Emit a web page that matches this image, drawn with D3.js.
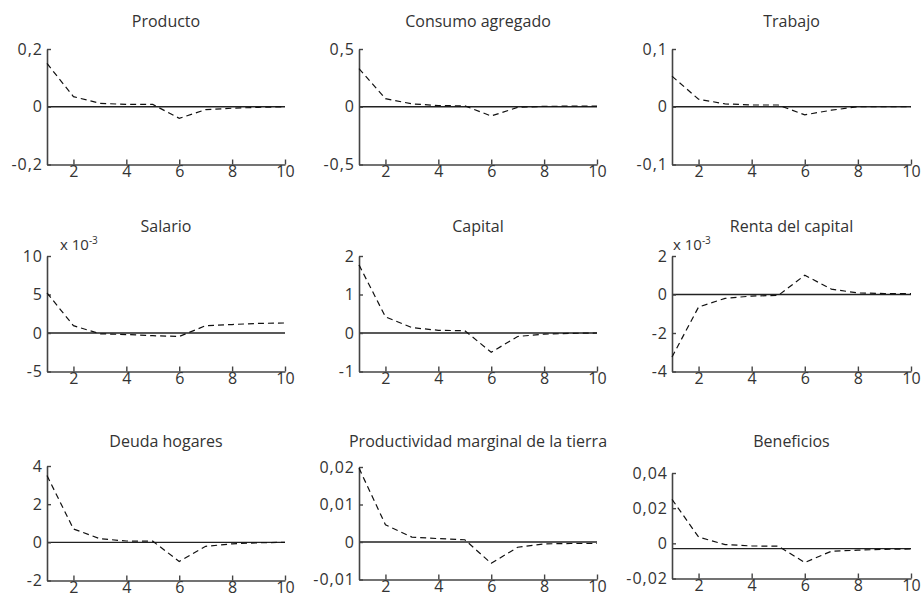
<!DOCTYPE html>
<html>
<head>
<meta charset="utf-8">
<script src="https://cdn.jsdelivr.net/npm/d3@7"></script>
<style>
  body { margin: 0; background: #fff; }
  text { font-family: "Open Sans", Lato, sans-serif; fill: #333; }
</style>
</head>
<body>
<div id="chart"></div>
<script>
// impulse responses, periods 1..10
let periods = [1, 2, 3, 4, 5, 6, 7, 8, 9, 10]
let xTicks = [2, 4, 6, 8, 10]

let titles = ["Producto", "Consumo agregado", "Trabajo",
    "Salario", "Capital", "Renta del capital",
    "Deuda hogares", "Productividad marginal de la tierra", "Beneficios"]

let producto = [0.15, 0.035, 0.012, 0.008, 0.008, -0.04, -0.01, -0.005, -0.002, 0]
let consumo = [0.33, 0.07, 0.025, 0.01, 0.008, -0.08, -0.005, 0.004, 0.005, 0.005]
let trabajo = [0.053, 0.013, 0.005, 0.003, 0.003, -0.014, -0.006, 0, 0, 0]
let salario = [5.2, 0.95, -0.1, -0.2, -0.35, -0.45, 0.95, 1.1, 1.25, 1.3]      // x 10^-3
let capital = [1.77, 0.42, 0.14, 0.07, 0.06, -0.5, -0.09, -0.03, -0.01, 0]
let renta = [-3.25, -0.65, -0.2, -0.08, -0.05, 1.0, 0.28, 0.08, 0.05, 0.05]    // x 10^-3
let deuda = [3.5, 0.7, 0.19, 0.07, 0.06, -1.0, -0.21, -0.08, -0.02, 0]
let productividad = [0.0197, 0.0046, 0.0013, 0.0009, 0.0006, -0.0057, -0.0014, -0.0005, -0.0004, -0.0004]
let beneficios = [0.025, 0.0036, -0.0007, -0.0015, -0.0016, -0.0109, -0.0045, -0.0039, -0.0034, -0.0032]

let series = [producto, consumo, trabajo, salario, capital, renta, deuda, productividad, beneficios]

let yDomains = [[-0.2, 0.2], [-0.5, 0.5], [-0.1, 0.1],
    [-5, 10], [-1, 2], [-4, 2],
    [-2, 4], [-0.01, 0.02], [-0.02, 0.04]]
let yTicks = [[-0.2, 0, 0.2], [-0.5, 0, 0.5], [-0.1, 0, 0.1],
    [-5, 0, 5, 10], [-1, 0, 1, 2], [-4, -2, 0, 2],
    [-2, 0, 2, 4], [-0.01, 0, 0.01, 0.02], [-0.02, 0, 0.02, 0.04]]
// reference (steady state) line
let baselines = [0, 0, 0, 0, 0, 0, 0, 0, -0.003]
let scaleNotes = ["", "", "", "x 10", "", "x 10", "", "", ""]

// layout
var W = 921, H = 604
var colLeft = [47, 359, 672],
    colRight = [285, 597, 911]
var panelTop = [49, 49, 49, 256, 256, 256, 466, 467, 473]
var panelBottom = [164.5, 164.5, 164.5, 371.5, 371.5, 371.5, 580.5, 579.5, 578.5]
var titleY = [27, 232, 447]
var noteDx = [0, 0, 0, 13, 0, 1, 0, 0, 0]

var svg = d3.select("#chart")
    .append("svg")
    .attr("width", W)
    .attr("height", H)

function fmt(v) {
    if (v === 0) return "0"
    return String(v).replace(".", ",")
}

titles.forEach((title, i) => {
    var col = i % 3, row = Math.floor(i / 3)

    var x = d3.scaleLinear()
        .domain([1, 10])
        .range([colLeft[col], colRight[col]])
    var y = d3.scaleLinear()
        .domain(yDomains[i])
        .range([panelBottom[i], panelTop[i]])

    var g = svg.append("g")

    // title
    g.append("text")
        .attr("x", (colLeft[col] + colRight[col]) / 2)
        .attr("y", titleY[row])
        .attr("text-anchor", "middle")
        .attr("font-size", 16)
        .text(title)

    // zero / steady state line
    g.append("line")
        .attr("x1", x(1))
        .attr("x2", x(10))
        .attr("y1", y(baselines[i]))
        .attr("y2", y(baselines[i]))
        .attr("stroke", "#222")
        .attr("stroke-width", 1.3)

    // x axis
    var xAxis = g.append("g")
        .attr("transform", "translate(0," + panelBottom[i] + ")")
        .call(d3.axisBottom(x)
            .tickValues(xTicks)
            .tickSizeInner(-5)
            .tickSizeOuter(0)
            .tickPadding(1)
            .tickFormat(d3.format("d")))

    // y axis
    var yAxis = g.append("g")
        .attr("transform", "translate(" + colLeft[col] + ",0)")
        .call(d3.axisLeft(y)
            .tickValues(yTicks[i])
            .tickSizeInner(-4)
            .tickSizeOuter(0)
            .tickPadding(4)
            .tickFormat(fmt))

    for (var ax of [xAxis, yAxis]) {
        ax.attr("font-size", 16).attr("font-family", null)
        ax.select(".domain").attr("stroke", "#444").attr("stroke-width", 1.6)
        ax.selectAll(".tick line").attr("stroke", "#444").attr("stroke-width", 1.4)
        ax.selectAll(".tick text").attr("fill", "#333")
    }
    yAxis.selectAll(".tick text").attr("letter-spacing", 1)

    // scale note (x 10^-3)
    if (scaleNotes[i]) {
        var note = g.append("text")
            .attr("x", colLeft[col] + noteDx[i])
            .attr("y", panelTop[i] - 6)
            .attr("font-size", 15)
        note.append("tspan").text(scaleNotes[i])
        note.append("tspan")
            .attr("dy", -6)
            .attr("font-size", 10)
            .text("-3")
    }

    // response line
    var line = d3.line()
        .x((d, j) => x(periods[j]))
        .y((d) => y(d))

    g.append("path")
        .datum(series[i])
        .attr("d", line)
        .attr("fill", "none")
        .attr("stroke", "#111")
        .attr("stroke-width", 1.2)
        .attr("stroke-dasharray", "6,4")
})
</script>
</body>
</html>
